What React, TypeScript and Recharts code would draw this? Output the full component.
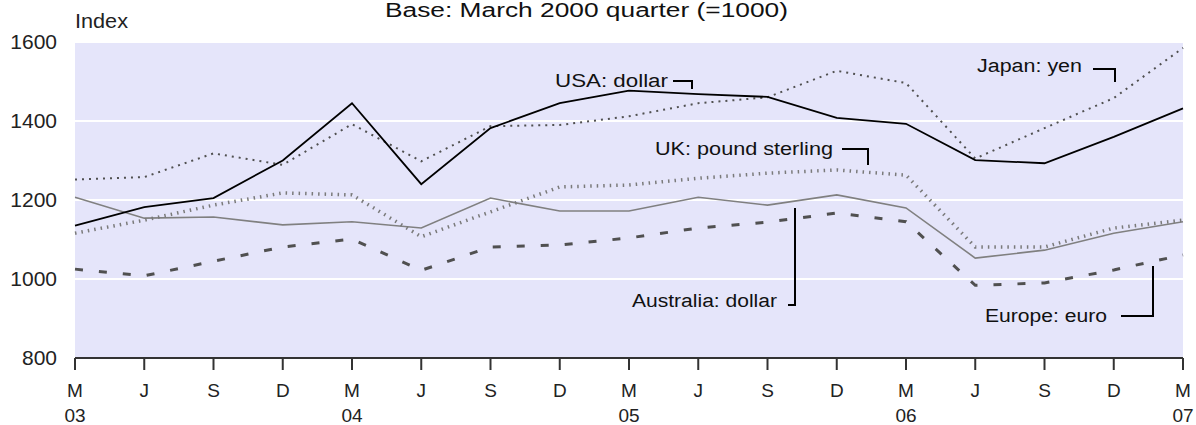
import React from "react";
import { LineChart, Line, XAxis, YAxis, CartesianGrid } from "recharts";

const quarters = ["M03","J03","S03","D03","M04","J04","S04","D04","M05","J05","S05","D05","M06","J06","S06","D06","M07"];
const monthLabels = ["M","J","S","D","M","J","S","D","M","J","S","D","M","J","S","D","M"];
const yearLabels = ["03","","","","04","","","","05","","","","06","","","","07"];
const usa = [1135,1182,1205,1300,1445,1240,1382,1445,1477,1468,1461,1408,1393,1301,1293,1360,1432];
const japan = [1252,1258,1318,1289,1392,1298,1387,1390,1412,1445,1460,1527,1496,1305,1382,1458,1585];
const uk = [1116,1149,1187,1218,1213,1107,1170,1233,1238,1255,1268,1276,1263,1081,1081,1129,1149];
const australia = [1207,1154,1157,1137,1145,1129,1205,1172,1172,1207,1187,1213,1180,1053,1073,1116,1145];
const europe = [1025,1008,1045,1081,1101,1022,1081,1086,1104,1129,1144,1167,1145,984,990,1023,1061];
const yTicks = [800,1000,1200,1400,1600];

const data = quarters.map((q, i) => ({
  i, q, usa: usa[i], japan: japan[i], uk: uk[i], australia: australia[i], europe: europe[i],
}));

const FONT = "'Liberation Sans', Arial, sans-serif";

const XTick = (props: any) => {
  const { x, y, payload } = props;
  const idx = payload.value as number;
  return (
    <g>
      <text x={x} y={y + 25} textAnchor="middle" fontSize={19} fontFamily={FONT} fill="#222">
        {monthLabels[idx]}
      </text>
      {yearLabels[idx] ? (
        <text x={x} y={y + 50} textAnchor="middle" fontSize={19} fontFamily={FONT} fill="#222">
          {yearLabels[idx]}
        </text>
      ) : null}
    </g>
  );
};

const labels = [
  { text: "USA: dollar", x: 555, y: 87, w: 113 },
  { text: "Japan: yen", x: 977, y: 72, w: 105 },
  { text: "UK: pound sterling", x: 655, y: 155, w: 178 },
  { text: "Australia: dollar", x: 632, y: 307, w: 145 },
  { text: "Europe: euro", x: 985, y: 322, w: 122 },
];
const brackets = [
  "673,81 692,81 692,89",
  "1093,69 1115,69 1115,82",
  "842,149 868,149 868,165",
  "788,305 795,305 795,208",
  "1121,316 1153,316 1153,266",
];

export default function App() {
  return (
    <div style={{ position: "absolute", left: 0, top: 0, width: 1196, height: 425, background: "#fff" }}>
      <LineChart
        width={1196}
        height={425}
        data={data}
        margin={{ top: 42, right: 13, left: 15, bottom: 17 }}
      >
        <CartesianGrid vertical={false} horizontal={true} stroke="#ffffff" strokeWidth={2} fill="#E5E5FA" fillOpacity={1} />
        <XAxis
          dataKey="i"
          type="number"
          domain={[0, 16]}
          ticks={quarters.map((_, i) => i)}
          interval={0}
          height={50}
          tickSize={12}
          tickMargin={2}
          axisLine={{ stroke: "#333", strokeWidth: 2 }}
          tickLine={{ stroke: "#333", strokeWidth: 2 }}
          tick={<XTick />}
        />
        <YAxis
          domain={[800, 1600]}
          ticks={yTicks}
          width={60}
          axisLine={false}
          tickLine={false}
          tickSize={0}
          tickMargin={18}
          tick={{ fontSize: 21, fontFamily: FONT, fill: "#222" }}
        />
        <Line type="linear" dataKey="australia" stroke="#808080" strokeWidth={1.6} dot={false} isAnimationActive={false} />
        <Line type="linear" dataKey="uk" stroke="#7a7a7a" strokeWidth={3.5} strokeDasharray="1.5 5" dot={false} isAnimationActive={false} />
        <Line type="linear" dataKey="europe" stroke="#505050" strokeWidth={3} strokeDasharray="8 16" dot={false} isAnimationActive={false} />
        <Line type="linear" dataKey="japan" stroke="#505050" strokeWidth={2} strokeDasharray="2 5" dot={false} isAnimationActive={false} />
        <Line type="linear" dataKey="usa" stroke="#000000" strokeWidth={1.8} dot={false} isAnimationActive={false} />
      </LineChart>
      <svg
        width={1196}
        height={425}
        style={{ position: "absolute", left: 0, top: 0, pointerEvents: "none" }}
      >
        <text x={385} y={17} fontSize={20} fontFamily={FONT} fill="#111" textLength={403} lengthAdjust="spacingAndGlyphs">
          Base: March 2000 quarter (=1000)
        </text>
        <text x={75} y={28} fontSize={20} fontFamily={FONT} fill="#222" textLength={53} lengthAdjust="spacingAndGlyphs">
          Index
        </text>
        {labels.map((l) => (
          <text key={l.text} x={l.x} y={l.y} fontSize={18} fontFamily={FONT} fill="#111" textLength={l.w} lengthAdjust="spacingAndGlyphs">
            {l.text}
          </text>
        ))}
        {brackets.map((p, k) => (
          <polyline key={k} points={p} fill="none" stroke="#000" strokeWidth={2} />
        ))}
      </svg>
    </div>
  );
}
